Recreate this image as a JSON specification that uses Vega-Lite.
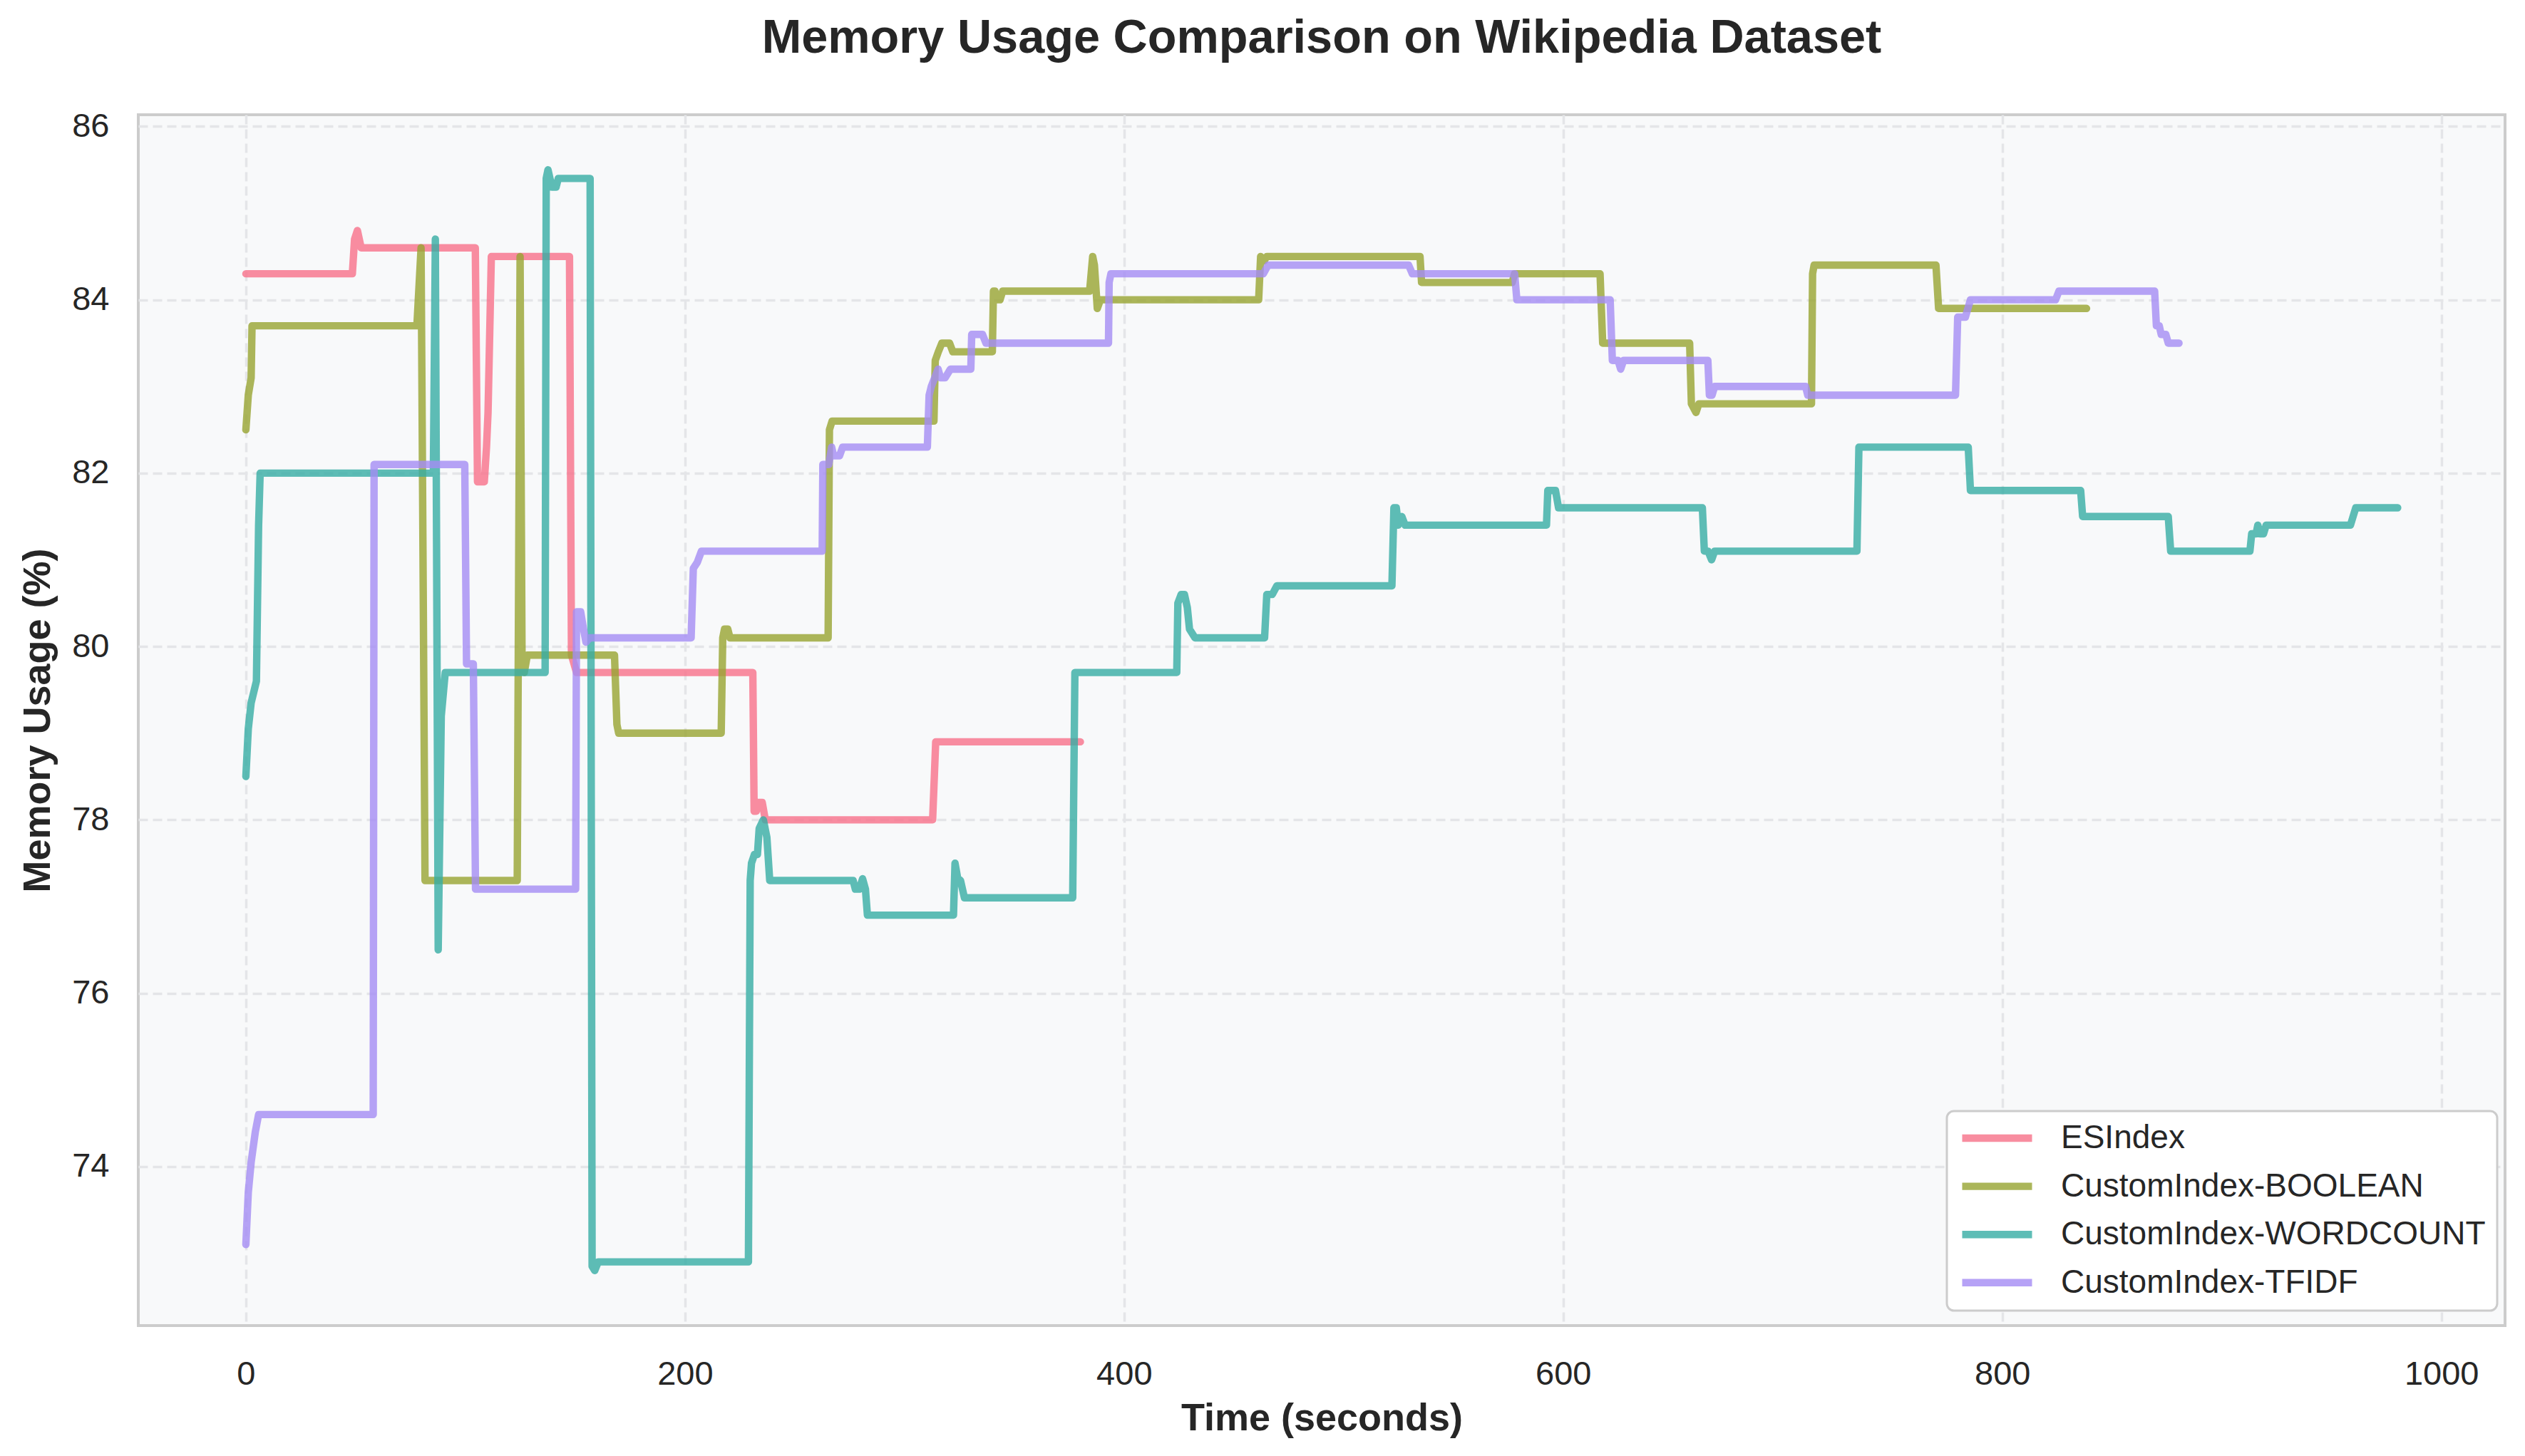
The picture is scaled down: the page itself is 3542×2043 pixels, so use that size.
{
  "$schema": "https://vega.github.io/schema/vega-lite/v6.json",
  "width": 3320,
  "height": 1699,
  "autosize": {"type": "none"},
  "padding": {"left": 194, "top": 161, "right": 28, "bottom": 183},
  "background": "white",
  "title": {"text": "Memory Usage Comparison on Wikipedia Dataset", "font": "Liberation Sans", "fontSize": 66.7, "fontWeight": "bold", "color": "#262626", "anchor": "middle", "frame": "group", "offset": 66},
  "config": {
    "font": "Liberation Sans",
    "view": {"fill": "#f8f9fa", "stroke": "#cccccc", "strokeWidth": 4},
    "axis": {"domain": false, "ticks": false, "tickSize": 0, "grid": true, "gridColor": "#e4e5e8", "gridWidth": 3.5, "gridDash": [13, 7], "labelFont": "Liberation Sans", "labelFontSize": 47, "labelColor": "#262626", "titleFont": "Liberation Sans", "titleFontSize": 54, "titleFontWeight": "bold", "titleColor": "#262626"},
    "axisX": {"labelPadding": 45, "titlePadding": 12},
    "axisY": {"labelPadding": 41, "titlePadding": 20},
    "legend": {"strokeWidth": 3}
  },
  "data": {"values": [
    {"s": "ESIndex", "t": 0, "v": 84.3}, {"s": "ESIndex", "t": 48.5, "v": 84.3}, {"s": "ESIndex", "t": 49.5, "v": 84.7}, {"s": "ESIndex", "t": 50.8, "v": 84.8}, {"s": "ESIndex", "t": 52.5, "v": 84.6}, {"s": "ESIndex", "t": 104.5, "v": 84.6}, {"s": "ESIndex", "t": 105.5, "v": 81.9}, {"s": "ESIndex", "t": 108.6, "v": 81.9}, {"s": "ESIndex", "t": 109.6, "v": 82.3}, {"s": "ESIndex", "t": 110.3, "v": 82.7}, {"s": "ESIndex", "t": 111.8, "v": 84.5}, {"s": "ESIndex", "t": 147.4, "v": 84.5}, {"s": "ESIndex", "t": 148.3, "v": 79.9}, {"s": "ESIndex", "t": 150.6, "v": 79.7}, {"s": "ESIndex", "t": 230.9, "v": 79.7}, {"s": "ESIndex", "t": 231.5, "v": 78.1}, {"s": "ESIndex", "t": 232.5, "v": 78.1}, {"s": "ESIndex", "t": 233.4, "v": 78.2}, {"s": "ESIndex", "t": 235.2, "v": 78.2}, {"s": "ESIndex", "t": 236.6, "v": 78.0}, {"s": "ESIndex", "t": 312.8, "v": 78.0}, {"s": "ESIndex", "t": 314.2, "v": 78.9}, {"s": "ESIndex", "t": 380.1, "v": 78.9},

    {"s": "CustomIndex-BOOLEAN", "t": 0, "v": 82.5}, {"s": "CustomIndex-BOOLEAN", "t": 1.1, "v": 82.9}, {"s": "CustomIndex-BOOLEAN", "t": 2.4, "v": 83.1}, {"s": "CustomIndex-BOOLEAN", "t": 2.8, "v": 83.7}, {"s": "CustomIndex-BOOLEAN", "t": 77.9, "v": 83.7}, {"s": "CustomIndex-BOOLEAN", "t": 79.8, "v": 84.6}, {"s": "CustomIndex-BOOLEAN", "t": 81.6, "v": 77.3}, {"s": "CustomIndex-BOOLEAN", "t": 123.6, "v": 77.3}, {"s": "CustomIndex-BOOLEAN", "t": 124.9, "v": 84.5}, {"s": "CustomIndex-BOOLEAN", "t": 125.8, "v": 79.8}, {"s": "CustomIndex-BOOLEAN", "t": 126.8, "v": 79.7}, {"s": "CustomIndex-BOOLEAN", "t": 128.2, "v": 79.9}, {"s": "CustomIndex-BOOLEAN", "t": 167.9, "v": 79.9}, {"s": "CustomIndex-BOOLEAN", "t": 169.0, "v": 79.1}, {"s": "CustomIndex-BOOLEAN", "t": 169.8, "v": 79.0}, {"s": "CustomIndex-BOOLEAN", "t": 216.5, "v": 79.0}, {"s": "CustomIndex-BOOLEAN", "t": 217.2, "v": 80.1}, {"s": "CustomIndex-BOOLEAN", "t": 218.0, "v": 80.2}, {"s": "CustomIndex-BOOLEAN", "t": 219.5, "v": 80.2}, {"s": "CustomIndex-BOOLEAN", "t": 220.5, "v": 80.1}, {"s": "CustomIndex-BOOLEAN", "t": 265.2, "v": 80.1}, {"s": "CustomIndex-BOOLEAN", "t": 265.8, "v": 82.5}, {"s": "CustomIndex-BOOLEAN", "t": 267.0, "v": 82.6}, {"s": "CustomIndex-BOOLEAN", "t": 313.4, "v": 82.6}, {"s": "CustomIndex-BOOLEAN", "t": 314.0, "v": 83.3}, {"s": "CustomIndex-BOOLEAN", "t": 315.4, "v": 83.4}, {"s": "CustomIndex-BOOLEAN", "t": 317.0, "v": 83.5}, {"s": "CustomIndex-BOOLEAN", "t": 320.5, "v": 83.5}, {"s": "CustomIndex-BOOLEAN", "t": 322.0, "v": 83.4}, {"s": "CustomIndex-BOOLEAN", "t": 340.0, "v": 83.4}, {"s": "CustomIndex-BOOLEAN", "t": 340.5, "v": 84.1}, {"s": "CustomIndex-BOOLEAN", "t": 341.2, "v": 84.1}, {"s": "CustomIndex-BOOLEAN", "t": 342.2, "v": 84.0}, {"s": "CustomIndex-BOOLEAN", "t": 343.5, "v": 84.0}, {"s": "CustomIndex-BOOLEAN", "t": 344.7, "v": 84.1}, {"s": "CustomIndex-BOOLEAN", "t": 384.3, "v": 84.1}, {"s": "CustomIndex-BOOLEAN", "t": 385.7, "v": 84.5}, {"s": "CustomIndex-BOOLEAN", "t": 386.5, "v": 84.4}, {"s": "CustomIndex-BOOLEAN", "t": 387.8, "v": 83.9}, {"s": "CustomIndex-BOOLEAN", "t": 389.2, "v": 84.0}, {"s": "CustomIndex-BOOLEAN", "t": 461.3, "v": 84.0}, {"s": "CustomIndex-BOOLEAN", "t": 462.2, "v": 84.5}, {"s": "CustomIndex-BOOLEAN", "t": 463.8, "v": 84.45}, {"s": "CustomIndex-BOOLEAN", "t": 465.0, "v": 84.5}, {"s": "CustomIndex-BOOLEAN", "t": 534.8, "v": 84.5}, {"s": "CustomIndex-BOOLEAN", "t": 535.5, "v": 84.2}, {"s": "CustomIndex-BOOLEAN", "t": 576.8, "v": 84.2}, {"s": "CustomIndex-BOOLEAN", "t": 577.8, "v": 84.3}, {"s": "CustomIndex-BOOLEAN", "t": 616.8, "v": 84.3}, {"s": "CustomIndex-BOOLEAN", "t": 618.0, "v": 83.5}, {"s": "CustomIndex-BOOLEAN", "t": 657.6, "v": 83.5}, {"s": "CustomIndex-BOOLEAN", "t": 658.4, "v": 82.8}, {"s": "CustomIndex-BOOLEAN", "t": 660.5, "v": 82.7}, {"s": "CustomIndex-BOOLEAN", "t": 661.8, "v": 82.8}, {"s": "CustomIndex-BOOLEAN", "t": 713.1, "v": 82.8}, {"s": "CustomIndex-BOOLEAN", "t": 713.6, "v": 84.3}, {"s": "CustomIndex-BOOLEAN", "t": 714.3, "v": 84.4}, {"s": "CustomIndex-BOOLEAN", "t": 769.8, "v": 84.4}, {"s": "CustomIndex-BOOLEAN", "t": 771.0, "v": 83.9}, {"s": "CustomIndex-BOOLEAN", "t": 838.4, "v": 83.9},

    {"s": "CustomIndex-WORDCOUNT", "t": 0, "v": 78.5}, {"s": "CustomIndex-WORDCOUNT", "t": 1.1, "v": 79.05}, {"s": "CustomIndex-WORDCOUNT", "t": 2.4, "v": 79.35}, {"s": "CustomIndex-WORDCOUNT", "t": 4.8, "v": 79.6}, {"s": "CustomIndex-WORDCOUNT", "t": 5.8, "v": 81.4}, {"s": "CustomIndex-WORDCOUNT", "t": 6.5, "v": 82.0}, {"s": "CustomIndex-WORDCOUNT", "t": 85.4, "v": 82.0}, {"s": "CustomIndex-WORDCOUNT", "t": 86.3, "v": 84.7}, {"s": "CustomIndex-WORDCOUNT", "t": 87.6, "v": 76.5}, {"s": "CustomIndex-WORDCOUNT", "t": 89.0, "v": 79.2}, {"s": "CustomIndex-WORDCOUNT", "t": 90.8, "v": 79.7}, {"s": "CustomIndex-WORDCOUNT", "t": 136.3, "v": 79.7}, {"s": "CustomIndex-WORDCOUNT", "t": 136.8, "v": 85.4}, {"s": "CustomIndex-WORDCOUNT", "t": 137.6, "v": 85.5}, {"s": "CustomIndex-WORDCOUNT", "t": 139.4, "v": 85.3}, {"s": "CustomIndex-WORDCOUNT", "t": 141.3, "v": 85.3}, {"s": "CustomIndex-WORDCOUNT", "t": 142.3, "v": 85.4}, {"s": "CustomIndex-WORDCOUNT", "t": 156.8, "v": 85.4}, {"s": "CustomIndex-WORDCOUNT", "t": 157.7, "v": 72.85}, {"s": "CustomIndex-WORDCOUNT", "t": 158.9, "v": 72.8}, {"s": "CustomIndex-WORDCOUNT", "t": 160.5, "v": 72.9}, {"s": "CustomIndex-WORDCOUNT", "t": 228.9, "v": 72.9}, {"s": "CustomIndex-WORDCOUNT", "t": 229.7, "v": 77.3}, {"s": "CustomIndex-WORDCOUNT", "t": 230.3, "v": 77.5}, {"s": "CustomIndex-WORDCOUNT", "t": 231.6, "v": 77.6}, {"s": "CustomIndex-WORDCOUNT", "t": 233.0, "v": 77.6}, {"s": "CustomIndex-WORDCOUNT", "t": 233.8, "v": 77.9}, {"s": "CustomIndex-WORDCOUNT", "t": 235.7, "v": 78.0}, {"s": "CustomIndex-WORDCOUNT", "t": 237.3, "v": 77.8}, {"s": "CustomIndex-WORDCOUNT", "t": 238.6, "v": 77.3}, {"s": "CustomIndex-WORDCOUNT", "t": 276.6, "v": 77.3}, {"s": "CustomIndex-WORDCOUNT", "t": 277.6, "v": 77.2}, {"s": "CustomIndex-WORDCOUNT", "t": 279.4, "v": 77.2}, {"s": "CustomIndex-WORDCOUNT", "t": 280.9, "v": 77.32}, {"s": "CustomIndex-WORDCOUNT", "t": 282.2, "v": 77.2}, {"s": "CustomIndex-WORDCOUNT", "t": 283.1, "v": 76.9}, {"s": "CustomIndex-WORDCOUNT", "t": 322.3, "v": 76.9}, {"s": "CustomIndex-WORDCOUNT", "t": 323.0, "v": 77.5}, {"s": "CustomIndex-WORDCOUNT", "t": 324.2, "v": 77.33}, {"s": "CustomIndex-WORDCOUNT", "t": 325.5, "v": 77.3}, {"s": "CustomIndex-WORDCOUNT", "t": 327.3, "v": 77.1}, {"s": "CustomIndex-WORDCOUNT", "t": 376.6, "v": 77.1}, {"s": "CustomIndex-WORDCOUNT", "t": 377.6, "v": 79.7}, {"s": "CustomIndex-WORDCOUNT", "t": 424.0, "v": 79.7}, {"s": "CustomIndex-WORDCOUNT", "t": 424.5, "v": 80.5}, {"s": "CustomIndex-WORDCOUNT", "t": 426.0, "v": 80.6}, {"s": "CustomIndex-WORDCOUNT", "t": 427.5, "v": 80.6}, {"s": "CustomIndex-WORDCOUNT", "t": 428.8, "v": 80.45}, {"s": "CustomIndex-WORDCOUNT", "t": 429.8, "v": 80.2}, {"s": "CustomIndex-WORDCOUNT", "t": 432.3, "v": 80.1}, {"s": "CustomIndex-WORDCOUNT", "t": 464.0, "v": 80.1}, {"s": "CustomIndex-WORDCOUNT", "t": 465.0, "v": 80.6}, {"s": "CustomIndex-WORDCOUNT", "t": 467.5, "v": 80.6}, {"s": "CustomIndex-WORDCOUNT", "t": 469.6, "v": 80.7}, {"s": "CustomIndex-WORDCOUNT", "t": 522.0, "v": 80.7}, {"s": "CustomIndex-WORDCOUNT", "t": 522.9, "v": 81.6}, {"s": "CustomIndex-WORDCOUNT", "t": 524.0, "v": 81.6}, {"s": "CustomIndex-WORDCOUNT", "t": 524.9, "v": 81.4}, {"s": "CustomIndex-WORDCOUNT", "t": 526.5, "v": 81.5}, {"s": "CustomIndex-WORDCOUNT", "t": 528.0, "v": 81.4}, {"s": "CustomIndex-WORDCOUNT", "t": 592.4, "v": 81.4}, {"s": "CustomIndex-WORDCOUNT", "t": 593.0, "v": 81.8}, {"s": "CustomIndex-WORDCOUNT", "t": 596.5, "v": 81.8}, {"s": "CustomIndex-WORDCOUNT", "t": 597.9, "v": 81.6}, {"s": "CustomIndex-WORDCOUNT", "t": 663.4, "v": 81.6}, {"s": "CustomIndex-WORDCOUNT", "t": 664.3, "v": 81.1}, {"s": "CustomIndex-WORDCOUNT", "t": 666.0, "v": 81.1}, {"s": "CustomIndex-WORDCOUNT", "t": 667.6, "v": 81.0}, {"s": "CustomIndex-WORDCOUNT", "t": 669.0, "v": 81.1}, {"s": "CustomIndex-WORDCOUNT", "t": 733.8, "v": 81.1}, {"s": "CustomIndex-WORDCOUNT", "t": 734.7, "v": 82.3}, {"s": "CustomIndex-WORDCOUNT", "t": 784.5, "v": 82.3}, {"s": "CustomIndex-WORDCOUNT", "t": 785.5, "v": 81.8}, {"s": "CustomIndex-WORDCOUNT", "t": 835.7, "v": 81.8}, {"s": "CustomIndex-WORDCOUNT", "t": 836.6, "v": 81.5}, {"s": "CustomIndex-WORDCOUNT", "t": 875.6, "v": 81.5}, {"s": "CustomIndex-WORDCOUNT", "t": 876.7, "v": 81.1}, {"s": "CustomIndex-WORDCOUNT", "t": 912.8, "v": 81.1}, {"s": "CustomIndex-WORDCOUNT", "t": 913.6, "v": 81.3}, {"s": "CustomIndex-WORDCOUNT", "t": 915.6, "v": 81.3}, {"s": "CustomIndex-WORDCOUNT", "t": 916.4, "v": 81.4}, {"s": "CustomIndex-WORDCOUNT", "t": 917.4, "v": 81.3}, {"s": "CustomIndex-WORDCOUNT", "t": 919.0, "v": 81.3}, {"s": "CustomIndex-WORDCOUNT", "t": 920.2, "v": 81.4}, {"s": "CustomIndex-WORDCOUNT", "t": 958.6, "v": 81.4}, {"s": "CustomIndex-WORDCOUNT", "t": 961.0, "v": 81.6}, {"s": "CustomIndex-WORDCOUNT", "t": 980.1, "v": 81.6},

    {"s": "CustomIndex-TFIDF", "t": 0, "v": 73.1}, {"s": "CustomIndex-TFIDF", "t": 1.1, "v": 73.7}, {"s": "CustomIndex-TFIDF", "t": 2.4, "v": 74.05}, {"s": "CustomIndex-TFIDF", "t": 4.3, "v": 74.4}, {"s": "CustomIndex-TFIDF", "t": 5.8, "v": 74.6}, {"s": "CustomIndex-TFIDF", "t": 58.0, "v": 74.6}, {"s": "CustomIndex-TFIDF", "t": 58.4, "v": 82.1}, {"s": "CustomIndex-TFIDF", "t": 99.7, "v": 82.1}, {"s": "CustomIndex-TFIDF", "t": 100.5, "v": 79.8}, {"s": "CustomIndex-TFIDF", "t": 103.6, "v": 79.8}, {"s": "CustomIndex-TFIDF", "t": 104.6, "v": 77.2}, {"s": "CustomIndex-TFIDF", "t": 150.2, "v": 77.2}, {"s": "CustomIndex-TFIDF", "t": 150.6, "v": 80.4}, {"s": "CustomIndex-TFIDF", "t": 152.5, "v": 80.4}, {"s": "CustomIndex-TFIDF", "t": 153.8, "v": 80.2}, {"s": "CustomIndex-TFIDF", "t": 154.9, "v": 80.05}, {"s": "CustomIndex-TFIDF", "t": 156.6, "v": 80.1}, {"s": "CustomIndex-TFIDF", "t": 202.8, "v": 80.1}, {"s": "CustomIndex-TFIDF", "t": 203.8, "v": 80.9}, {"s": "CustomIndex-TFIDF", "t": 205.6, "v": 80.97}, {"s": "CustomIndex-TFIDF", "t": 207.5, "v": 81.1}, {"s": "CustomIndex-TFIDF", "t": 262.5, "v": 81.1}, {"s": "CustomIndex-TFIDF", "t": 262.8, "v": 82.1}, {"s": "CustomIndex-TFIDF", "t": 265.5, "v": 82.1}, {"s": "CustomIndex-TFIDF", "t": 266.8, "v": 82.3}, {"s": "CustomIndex-TFIDF", "t": 267.7, "v": 82.2}, {"s": "CustomIndex-TFIDF", "t": 270.4, "v": 82.2}, {"s": "CustomIndex-TFIDF", "t": 271.8, "v": 82.3}, {"s": "CustomIndex-TFIDF", "t": 310.4, "v": 82.3}, {"s": "CustomIndex-TFIDF", "t": 311.2, "v": 82.9}, {"s": "CustomIndex-TFIDF", "t": 312.2, "v": 83.0}, {"s": "CustomIndex-TFIDF", "t": 315.3, "v": 83.2}, {"s": "CustomIndex-TFIDF", "t": 316.4, "v": 83.1}, {"s": "CustomIndex-TFIDF", "t": 318.5, "v": 83.1}, {"s": "CustomIndex-TFIDF", "t": 320.9, "v": 83.2}, {"s": "CustomIndex-TFIDF", "t": 330.2, "v": 83.2}, {"s": "CustomIndex-TFIDF", "t": 330.6, "v": 83.6}, {"s": "CustomIndex-TFIDF", "t": 335.5, "v": 83.6}, {"s": "CustomIndex-TFIDF", "t": 337.1, "v": 83.5}, {"s": "CustomIndex-TFIDF", "t": 392.9, "v": 83.5}, {"s": "CustomIndex-TFIDF", "t": 393.2, "v": 84.2}, {"s": "CustomIndex-TFIDF", "t": 394.0, "v": 84.3}, {"s": "CustomIndex-TFIDF", "t": 463.4, "v": 84.3}, {"s": "CustomIndex-TFIDF", "t": 465.6, "v": 84.4}, {"s": "CustomIndex-TFIDF", "t": 529.6, "v": 84.4}, {"s": "CustomIndex-TFIDF", "t": 531.3, "v": 84.3}, {"s": "CustomIndex-TFIDF", "t": 577.9, "v": 84.3}, {"s": "CustomIndex-TFIDF", "t": 578.9, "v": 84.0}, {"s": "CustomIndex-TFIDF", "t": 621.4, "v": 84.0}, {"s": "CustomIndex-TFIDF", "t": 622.4, "v": 83.3}, {"s": "CustomIndex-TFIDF", "t": 625.0, "v": 83.3}, {"s": "CustomIndex-TFIDF", "t": 626.2, "v": 83.2}, {"s": "CustomIndex-TFIDF", "t": 627.5, "v": 83.3}, {"s": "CustomIndex-TFIDF", "t": 665.9, "v": 83.3}, {"s": "CustomIndex-TFIDF", "t": 666.6, "v": 82.9}, {"s": "CustomIndex-TFIDF", "t": 667.8, "v": 82.9}, {"s": "CustomIndex-TFIDF", "t": 669.0, "v": 83.0}, {"s": "CustomIndex-TFIDF", "t": 710.4, "v": 83.0}, {"s": "CustomIndex-TFIDF", "t": 711.4, "v": 82.9}, {"s": "CustomIndex-TFIDF", "t": 778.7, "v": 82.9}, {"s": "CustomIndex-TFIDF", "t": 779.7, "v": 83.8}, {"s": "CustomIndex-TFIDF", "t": 783.2, "v": 83.8}, {"s": "CustomIndex-TFIDF", "t": 785.5, "v": 84.0}, {"s": "CustomIndex-TFIDF", "t": 824.3, "v": 84.0}, {"s": "CustomIndex-TFIDF", "t": 825.8, "v": 84.1}, {"s": "CustomIndex-TFIDF", "t": 869.4, "v": 84.1}, {"s": "CustomIndex-TFIDF", "t": 870.2, "v": 83.7}, {"s": "CustomIndex-TFIDF", "t": 871.5, "v": 83.7}, {"s": "CustomIndex-TFIDF", "t": 872.4, "v": 83.6}, {"s": "CustomIndex-TFIDF", "t": 874.5, "v": 83.6}, {"s": "CustomIndex-TFIDF", "t": 875.6, "v": 83.5}, {"s": "CustomIndex-TFIDF", "t": 880.5, "v": 83.5}
  ]},
  "mark": {"type": "line", "strokeWidth": 10.4, "opacity": 0.8, "strokeCap": "round", "strokeJoin": "round", "clip": true},
  "encoding": {
    "x": {"field": "t", "type": "quantitative", "scale": {"domain": [-49, 1029], "nice": false, "zero": false}, "axis": {"title": "Time (seconds)", "values": [0, 200, 400, 600, 800, 1000], "format": "d"}},
    "y": {"field": "v", "type": "quantitative", "scale": {"domain": [72.165, 86.135], "nice": false, "zero": false}, "axis": {"title": "Memory Usage (%)", "values": [74, 76, 78, 80, 82, 84, 86], "format": "d"}},
    "color": {"field": "s", "type": "nominal", "scale": {"domain": ["ESIndex", "CustomIndex-BOOLEAN", "CustomIndex-WORDCOUNT", "CustomIndex-TFIDF"], "range": ["#f77189", "#97a431", "#36ada4", "#a48cf4"]},
      "legend": {"title": null, "orient": "none", "legendX": 2537, "legendY": 1398, "symbolType": "stroke", "symbolSize": 9604, "symbolStrokeWidth": 10.4, "symbolOpacity": 0.8, "clipHeight": 44, "rowPadding": 21.6, "padding": 16, "labelOffset": 35, "symbolOffset": 0, "fillColor": "white", "strokeColor": "#cccccc", "cornerRadius": 10, "labelFont": "Liberation Sans", "labelFontSize": 46, "labelColor": "#262626", "labelLimit": 1000}},
    "order": {"value": null}
  }
}
